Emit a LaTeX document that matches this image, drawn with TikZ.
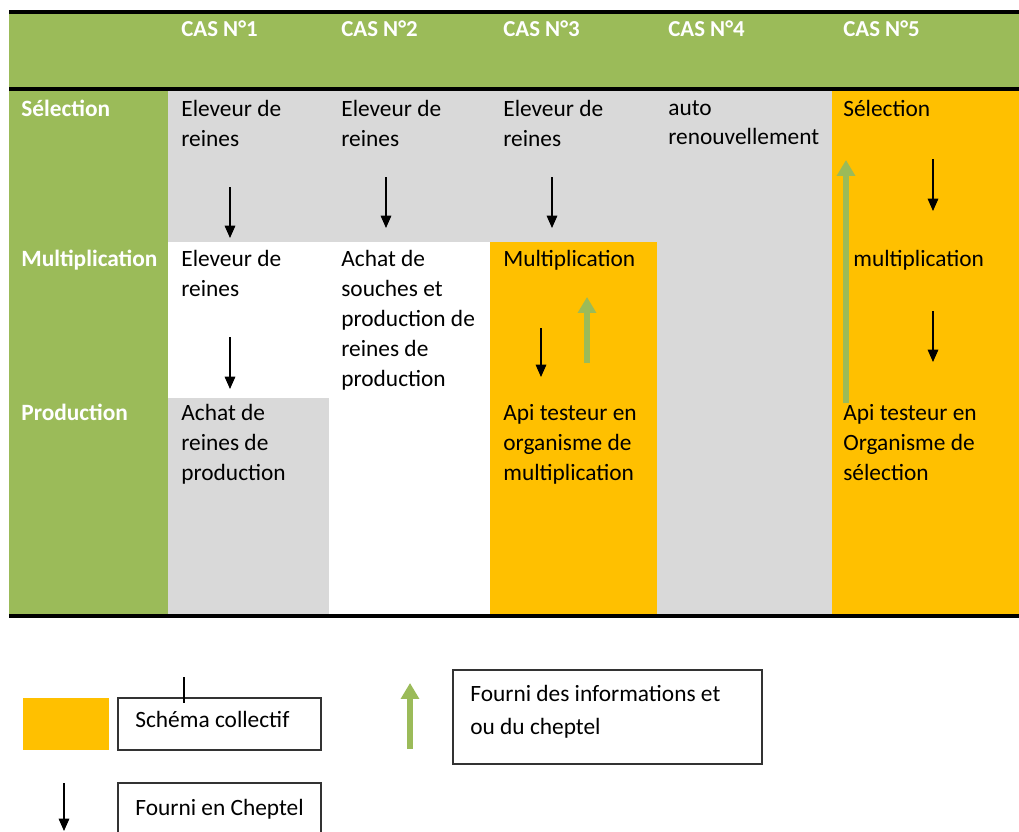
\documentclass[tikz,border=0pt]{standalone}
\usepackage{fontspec}
\setmainfont{Carlito}
\usetikzlibrary{arrows.meta}
\definecolor{vert}{HTML}{9BBB59}
\definecolor{gris}{HTML}{D9D9D9}
\definecolor{jaune}{HTML}{FFC000}
\tikzset{
  cell/.style={anchor=north west, inner sep=0pt, align=left,
    font=\fontsize{13.3}{17}\selectfont, execute at begin node={\rule{0pt}{12pt}}},
  entete/.style={cell, text=white, font=\fontsize{13.3}{17}\selectfont\bfseries},
  fleche/.style={line width=0.7pt, -{Triangle[width=6pt,length=7pt]}},
  flecheverte/.style={vert, line width=3.4pt, -{Triangle[width=10pt,length=9pt]}},
  legende/.style={draw=black!80, line width=0.8pt}
}

\begin{document}
\begin{tikzpicture}[x=0.02cm, y=-0.02cm]
	%%%%% START %%%%%
	\useasboundingbox (0,0) rectangle (1019,832);
	
	% fonds
	\fill[vert] (9,12) rectangle (1019,90);
	\fill[vert] (9,90) rectangle (168,615);
	\fill[gris] (168,90) rectangle (832,242);
	\fill[gris] (168,398) rectangle (329,615);
	\fill[gris] (657,242) rectangle (832,615);
	\fill[jaune] (490,242) rectangle (657,615);
	\fill[jaune] (832,90) rectangle (1019,615);
	
	\draw[line width=2.3pt] (9,12) -- (1019,12);
	\draw[line width=2.3pt] (9,89) -- (1019,89);
	\draw[line width=2.3pt] (9,616) -- (1019,616);
	
	% en-tetes
	\node[entete, font=\fontsize{13}{17}\selectfont\bfseries] (cas1) at (181,15) {CAS N°1};
	\node[entete, font=\fontsize{13}{17}\selectfont\bfseries] (cas2) at (341,15) {CAS N°2};
	\node[entete, font=\fontsize{13}{17}\selectfont\bfseries] (cas3) at (503,15) {CAS N°3};
	\node[entete, font=\fontsize{13}{17}\selectfont\bfseries] (cas4) at (668,15) {CAS N°4};
	\node[entete, font=\fontsize{13}{17}\selectfont\bfseries] (cas5) at (843,15) {CAS N°5};
	
	\node[entete] (sel) at (21,95) {Sélection};
	\node[entete] (mult) at (21,245) {Multiplication};
	\node[entete] (prod) at (21,399) {Production};
	
	% cas 1
	\node[cell] (c1sel) at (181,100) {Eleveur de\\reines};
	\node[cell] (c1mult) at (181,250) {Eleveur de\\reines};
	\node[cell] (c1prod) at (181,404) {Achat de\\reines de\\production};
	
	% cas 2
	\node[cell] (c2sel) at (341,100) {Eleveur de\\reines};
	\node[cell] (c2mult) at (341,250) {Achat de\\souches et\\production de\\reines de\\production};
	
	% cas 3
	\node[cell] (c3sel) at (503,100) {Eleveur de\\reines};
	\node[cell] (c3mult) at (503,245) {Multiplication};
	\node[cell] (c3prod) at (503,404) {Api testeur en\\organisme de\\multiplication};
	
	% cas 4
	\node[cell] (c4sel) at (668,100) {auto\\renouvellement};
	
	% cas 5
	\node[cell] (c5sel) at (843,95) {Sélection};
	\node[cell] (c5mult) at (853,245) {multiplication};
	\node[cell] (c5prod) at (843,404) {Api testeur en\\Organisme de\\sélection};
	
	% fleches
	\coordinate (a1) at (230,187); \coordinate (b1) at (230,238);
	\coordinate (a2) at (230,337); \coordinate (b2) at (230,389);
	\coordinate (a3) at (386,177); \coordinate (b3) at (386,228);
	\coordinate (a4) at (552,177); \coordinate (b4) at (552,228);
	\coordinate (a5) at (541,328); \coordinate (b5) at (541,377);
	\coordinate (a6) at (933,159); \coordinate (b6) at (933,211);
	\coordinate (a7) at (933,311); \coordinate (b7) at (933,362);
	\draw[fleche] (a1) -- (b1);
	\draw[fleche] (a2) -- (b2);
	\draw[fleche] (a3) -- (b3);
	\draw[fleche] (a4) -- (b4);
	\draw[fleche] (a5) -- (b5);
	\draw[fleche] (a6) -- (b6);
	\draw[fleche] (a7) -- (b7);
	
	\coordinate (v1) at (587,363); \coordinate (w1) at (587,297);
	\coordinate (v2) at (846,403); \coordinate (w2) at (846,160);
	\draw[flecheverte] (v1) -- (w1);
	\draw[flecheverte] (v2) -- (w2);
	
	% legende
	\fill[jaune] (23,698) rectangle (109,750);
	\draw[legende] (118,698) rectangle (321,750);
	\node[cell] (lcoll) at (135,706) {Schéma collectif};
	\draw[line width=1.5pt] (184,677) -- (184,703);
	
	\coordinate (lf1) at (64,783); \coordinate (lf2) at (64,831);
	\draw[fleche] (lf1) -- (lf2);
	\draw[legende] (118,840) -- (118,783) -- (321,783) -- (321,840);
	\node[cell] (lchep) at (135,794) {Fourni en Cheptel};
	
	\coordinate (lv1) at (410,749); \coordinate (lv2) at (410,683);
	\draw[flecheverte] (lv1) -- (lv2);
	\draw[legende] (453,670) rectangle (762,764);
	\node[cell, font=\fontsize{13.3}{18.7}\selectfont] (linfo) at (470,685) {Fourni des informations et\\ou du cheptel};
	
	%%%%% END %%%%%
\end{tikzpicture}
\end{document}
